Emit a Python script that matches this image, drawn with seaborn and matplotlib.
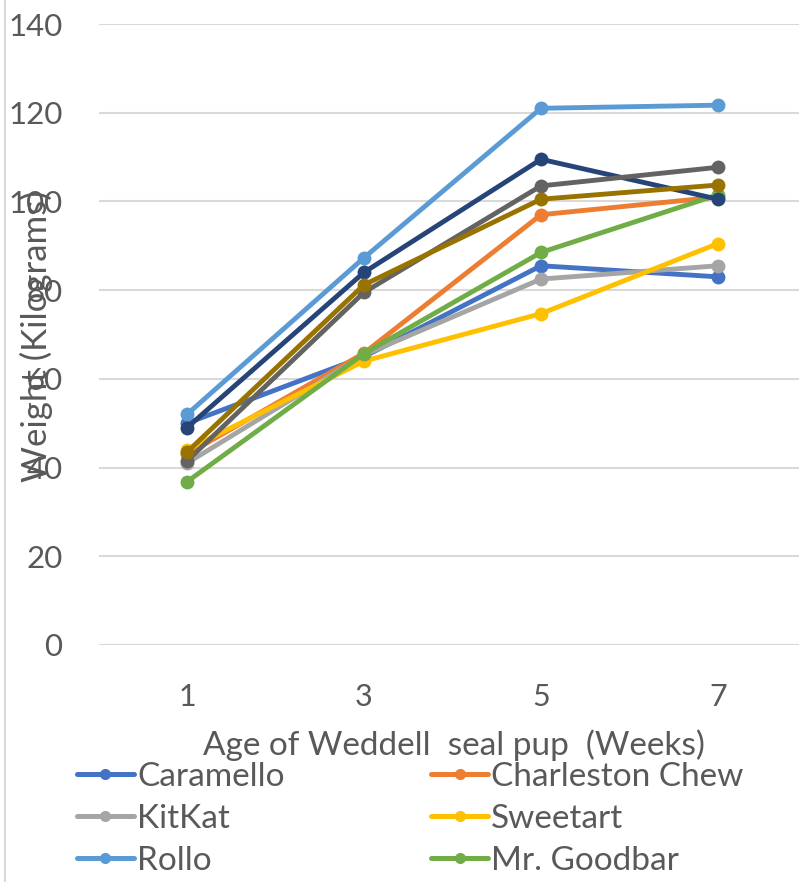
import matplotlib
matplotlib.use("Agg")
import matplotlib.pyplot as plt
from matplotlib.lines import Line2D
import seaborn as sns
import pandas as pd

# Weekly weights of Weddell seal pups, one series per pup
weeks = [1, 3, 5, 7]
series_names = ["Caramello", "Charleston Chew", "KitKat", "Sweetart", "Rollo",
                "Mr. Goodbar", "Series 7", "Series 8", "Series 9"]
caramello = [50, 65, 85.5, 83]
charleston_chew = [43, 65.8, 97, 101]
kitkat = [41, 65.4, 82.5, 85.5]
sweetart = [44, 64, 74.7, 90.5]
rollo = [52, 87.3, 121, 121.7]
mr_goodbar = [36.8, 65.7, 88.5, 101.5]
series_7 = [49, 84, 109.5, 100.5]
series_8 = [41.5, 79.5, 103.5, 107.7]
series_9 = [43.5, 81.2, 100.5, 103.7]
all_values = [caramello, charleston_chew, kitkat, sweetart, rollo,
              mr_goodbar, series_7, series_8, series_9]
colors = ["#4472C4", "#ED7D31", "#A5A5A5", "#FFC000", "#5B9BD5",
          "#70AD47", "#264478", "#636363", "#997300"]
y_ticks = [0, 20, 40, 60, 80, 100, 120, 140]

df = pd.DataFrame(
    [(name, w, v) for name, vals in zip(series_names, all_values)
     for w, v in zip(weeks, vals)],
    columns=["pup", "week", "weight"],
)

sns.set_theme(style="white")
plt.rcParams["font.family"] = ["Lato", "DejaVu Sans"]
text_color = "#595959"
grid_color = "#D9D9D9"

W, H = 799, 882
fig = plt.figure(figsize=(W / 100, H / 100), dpi=100)
ax = fig.add_axes([98.5 / W, 1 - 645 / H, 708 / W, 621 / H])

sns.lineplot(data=df, x="week", y="weight", hue="pup", hue_order=series_names,
             palette=colors, marker="o", markersize=10, markeredgewidth=0,
             linewidth=3.5, ax=ax, legend=False, zorder=3)

ax.set_xlim(0, 8)
ax.set_ylim(0, 140)
ax.set_xticks(weeks)
ax.set_xticklabels([str(w) for w in weeks])
ax.set_yticks(y_ticks)
ax.set_yticklabels([str(t) for t in y_ticks])
ax.yaxis.grid(True, color=grid_color, linewidth=1.5, zorder=0)
ax.xaxis.grid(False)
for s in ax.spines.values():
    s.set_visible(False)
ax.axhline(0, color=grid_color, linewidth=1.5, zorder=1)
ax.tick_params(axis="x", length=0, pad=27, labelsize=22, labelcolor=text_color)
ax.tick_params(axis="y", length=0, pad=26, labelsize=22.5, labelcolor=text_color)
ax.set_xlabel("")
ax.set_ylabel("")

fig.text(36 / W, 1 - 336 / H, "Weight (Kilograms)", rotation=90, ha="center",
         va="center", fontsize=25, color=text_color)
fig.text(454 / W, 1 - 745 / H, "Age of Weddell  seal pup  (Weeks)", ha="center",
         va="center", fontsize=24, color=text_color)

# Chart border on the left
fig.add_artist(Line2D([5 / W, 5 / W], [0, 1], color=grid_color, linewidth=1.5))

# Legend laid out row by row in two columns
order = [0, 2, 4, 1, 3, 5]
handles = [Line2D([0], [0], color=colors[i], linewidth=3.6, marker="o",
                  markersize=8, markeredgewidth=0) for i in order]
labels = [series_names[i] for i in order]
fig.legend(handles, labels, ncol=2, loc="upper left",
           bbox_to_anchor=(77 / W, 1 - 762 / H), frameon=False, fontsize=24,
           labelcolor=text_color, handlelength=1.7, handletextpad=0.1,
           columnspacing=4.4, labelspacing=0.36, borderaxespad=0, borderpad=0)

fig.savefig("out.png", dpi=100)
